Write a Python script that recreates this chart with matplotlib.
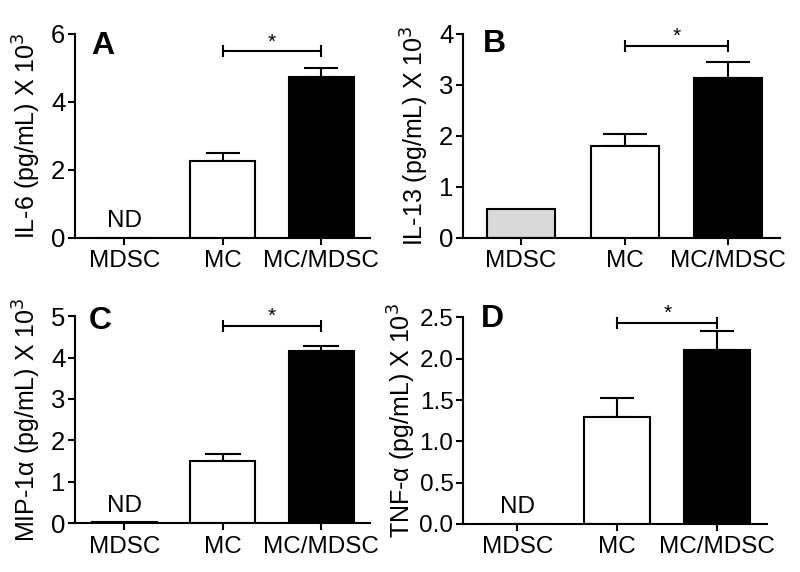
import matplotlib
matplotlib.use("Agg")
import matplotlib.pyplot as plt
import numpy as np

plt.rcParams['font.family'] = ['Liberation Sans', 'DejaVu Sans']

categories = ['MDSC', 'MC', 'MC/MDSC']

il6_mean = [0.0, 2.25, 4.72]
il6_err = [0.0, 0.25, 0.28]
il13_mean = [0.57, 1.81, 3.14]
il13_err = [0.0, 0.23, 0.31]
mip_mean = [0.03, 1.50, 4.16]
mip_err = [0.0, 0.17, 0.11]
tnf_mean = [0.0, 1.30, 2.10]
tnf_err = [0.0, 0.22, 0.24]

sig_heights = [5.48, 3.76, 4.77, 2.43]
nd_flags = [[True, False, False], [False, False, False],
            [True, False, False], [True, False, False]]

panels = [
    dict(letter='A', mean=il6_mean, err=il6_err, ylabel='IL-6 (pg/mL) X 10$^3$',
         ylim=(0, 6), yticks=[0, 2, 4, 6], fmt='%d',
         rect=[0.094, 0.584, 0.369, 0.357], xlim=(-0.5, 2.5), cap=12,
         lx=0.055, ly=1.015, lpad=6, ysize=18.5),
    dict(letter='B', mean=il13_mean, err=il13_err, ylabel='IL-13 (pg/mL) X 10$^3$',
         ylim=(0, 4), yticks=[0, 1, 2, 3, 4], fmt='%d',
         rect=[0.579, 0.584, 0.396, 0.357], xlim=(-0.56, 2.5), cap=16,
         lx=0.062, ly=1.025, lpad=6, ysize=18.5),
    dict(letter='C', mean=mip_mean, err=mip_err, ylabel='MIP-1α (pg/mL) X 10$^3$',
         ylim=(0, 5), yticks=[0, 1, 2, 3, 4, 5], fmt='%d',
         rect=[0.094, 0.085, 0.369, 0.3625], xlim=(-0.5, 2.5), cap=13,
         lx=0.045, ly=1.05, lpad=6, ysize=18.5),
    dict(letter='D', mean=tnf_mean, err=tnf_err, ylabel='TNF-α (pg/mL) X 10$^3$',
         ylim=(0, 2.5), yticks=[0, 0.5, 1.0, 1.5, 2.0, 2.5], fmt='%.1f',
         rect=[0.579, 0.084, 0.38, 0.361], xlim=(-0.54, 2.5), cap=12.5,
         lx=0.058, ly=1.065, lpad=1, ysize=17.5),
]

colors = ['#d9d9d9', 'white', 'black']

fig = plt.figure(figsize=(8, 5.72), dpi=100)

for i, p in enumerate(panels):
    ax = fig.add_axes(p['rect'])
    x = np.arange(len(categories))
    ax.bar(x, p['mean'], width=0.66, color=colors, edgecolor='black',
           linewidth=1.5, zorder=2)
    err = np.array(p['err'])
    mask = err > 0
    ax.errorbar(x[mask], np.array(p['mean'])[mask],
                yerr=[np.zeros(mask.sum()), err[mask]],
                fmt='none', ecolor='black', elinewidth=1.5, capsize=p['cap'],
                capthick=1.5, zorder=1)
    # significance bracket between MC and MC/MDSC
    h = sig_heights[i]
    ax.plot([1, 2], [h, h], color='black', lw=1.5, clip_on=False)
    ax.plot([1, 2], [h, h], linestyle='none', marker='|', markersize=9, mew=1.5,
            color='black', clip_on=False)
    ax.text(1.5, h, '*', ha='center', va='bottom', fontsize=15)
    # ND labels
    for j, nd in enumerate(nd_flags[i]):
        if nd:
            ax.text(x[j], p['ylim'][1] * 0.03, 'ND', ha='center', va='bottom', fontsize=17.5)
    ax.set_xlim(*p['xlim'])
    ax.set_ylim(*p['ylim'])
    ax.set_yticks(p['yticks'])
    ax.set_yticklabels([p['fmt'] % v for v in p['yticks']])
    ax.set_xticks(x)
    ax.set_xticklabels(categories)
    ax.set_ylabel(p['ylabel'], fontsize=18, labelpad=p['lpad'])
    ax.spines['top'].set_visible(False)
    ax.spines['right'].set_visible(False)
    for s in ['left', 'bottom']:
        ax.spines[s].set_linewidth(1.5)
    ax.tick_params(axis='both', which='major', length=5, width=1.5, direction='out')
    ax.tick_params(axis='x', pad=4, labelsize=17.5)
    ax.tick_params(axis='y', pad=2, labelsize=p['ysize'])
    ax.text(p['lx'], p['ly'], p['letter'], transform=ax.transAxes,
            fontsize=23, fontweight='bold', ha='left', va='top')

fig.savefig('out.png', dpi=100)
